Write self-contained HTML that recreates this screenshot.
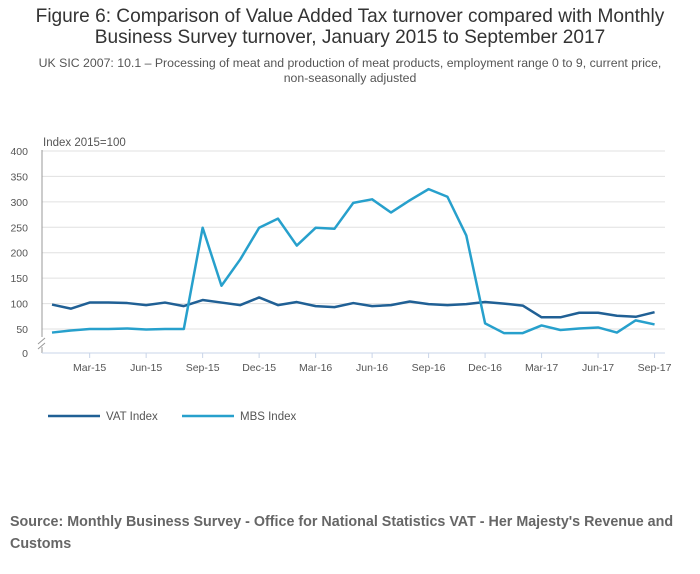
<!DOCTYPE html>
<html><head><meta charset="utf-8"><style>
body{margin:0;width:700px;height:574px;background:#fff;font-family:"Liberation Sans",sans-serif;overflow:hidden;position:relative}
#title{position:absolute;top:6px;left:0;width:700px;text-align:center;font-size:19.1px;line-height:21px;color:#333}
#sub{position:absolute;top:56px;left:0;width:700px;text-align:center;font-size:12.3px;line-height:15px;color:#555}
#src{position:absolute;top:511px;left:10px;width:690px;font-size:14.3px;line-height:22px;font-weight:bold;color:#666;white-space:nowrap}
</style></head><body>
<div id="title">Figure 6: Comparison of Value Added Tax turnover compared with Monthly<br>Business Survey turnover, January 2015 to September 2017</div>
<div id="sub">UK SIC 2007: 10.1 – Processing of meat and production of meat products, employment range 0 to 9, current price,<br>non-seasonally adjusted</div>
<svg id="chart" width="700" height="574" style="position:absolute;left:0;top:0"></svg>
<div id="src">Source: Monthly Business Survey - Office for National Statistics VAT - Her Majesty's Revenue and<br>Customs</div>
<script>
const months=["Jan-15","Feb-15","Mar-15","Apr-15","May-15","Jun-15","Jul-15","Aug-15","Sep-15","Oct-15","Nov-15","Dec-15","Jan-16","Feb-16","Mar-16","Apr-16","May-16","Jun-16","Jul-16","Aug-16","Sep-16","Oct-16","Nov-16","Dec-16","Jan-17","Feb-17","Mar-17","Apr-17","May-17","Jun-17","Jul-17","Aug-17","Sep-17"];
const vatValues=[98,90,102,102,101,97,102,95,107,102,97,112,97,103,95,93,101,95,97,104,99,97,99,103,100,96,73,73,82,82,76,74,83];
const mbsValues=[43,47,50,50,51,49,50,50,249,135,187,249,267,214,249,247,298,305,279,303,325,310,234,61,42,42,57,48,51,53,43,67,59];
const yTicks=[0,50,100,150,200,250,300,350,400];
const xTickLabels=["Mar-15","Jun-15","Sep-15","Dec-15","Mar-16","Jun-16","Sep-16","Dec-16","Mar-17","Jun-17","Sep-17"];
const NS="http://www.w3.org/2000/svg";
const svg=document.getElementById('chart');
const x=i=>52+i*18.83;
const y=v=>v===0?353:329+(50-v)*0.5086;
function mk(t,a,p){const e=document.createElementNS(NS,t);for(const k in a)e.setAttribute(k,a[k]);(p||svg).appendChild(e);return e;}
yTicks.forEach(v=>{
  if(v>0){const g=mk('line',{x1:42,x2:665,y1:y(v),y2:y(v),stroke:'#e0e0e0','stroke-width':1});
  
  }
  const t=mk('text',{x:28,y:y(v)+4,'font-size':10.5,fill:'#555','text-anchor':'end'});t.textContent=v;
  
  
});
mk('line',{x1:42,x2:42,y1:150,y2:337,stroke:'#999'});
mk('line',{x1:42,x2:42,y1:347,y2:353,stroke:'#999'});
mk('path',{d:'M38,344 L45,338 M38,349 L45,343',stroke:'#999',fill:'none'});
mk('line',{x1:42,x2:665,y1:353,y2:353,stroke:'#c8d4e8'});
const yt=mk('text',{x:43,y:146,'font-size':11.5,fill:'#555'});yt.textContent='Index 2015=100';


xTickLabels.forEach(lab=>{
  const i=months.indexOf(lab);
  mk('line',{x1:x(i),x2:x(i),y1:353,y2:358,stroke:'#c8d4e8'});
  const t=mk('text',{x:x(i),y:371,'font-size':10.5,fill:'#555','text-anchor':'middle'});t.textContent=lab;
  
  
});
function series(vals,color,name){
  const p=mk('polyline',{points:vals.map((v,i)=>x(i)+','+y(v)).join(' '),fill:'none',stroke:color,'stroke-width':2.5,'stroke-linejoin':'round'});
  
  
}
series(vatValues,'#206095','vat-line');
series(mbsValues,'#27a0cc','mbs-line');
[[48,'#206095','VAT Index','legend-vat'],[182,'#27a0cc','MBS Index','legend-mbs']].forEach(([lx,c,lab,n])=>{
  const g=mk('g',{});
  
  
  mk('line',{x1:lx,x2:lx+52,y1:416,y2:416,stroke:c,'stroke-width':2.5},g);
  const t=mk('text',{x:lx+58,y:420,'font-size':11.5,fill:'#555'},g);t.textContent=lab;
});
</script>
</body></html>
